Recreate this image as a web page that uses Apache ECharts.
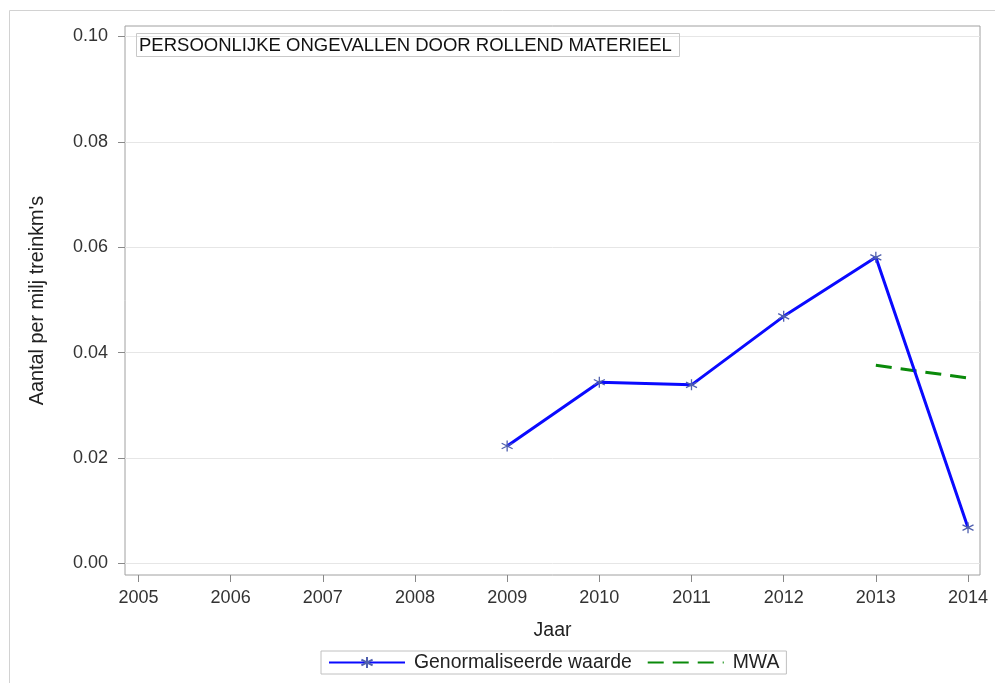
<!DOCTYPE html>
<html>
<head>
<meta charset="utf-8">
<script src="https://cdn.jsdelivr.net/npm/echarts@6/dist/echarts.min.js"></script>
<style>html,body{margin:0;padding:0;background:#fff;}#c{width:995px;height:683px;}</style>
</head>
<body>
<div id="c"></div>
<script>
const years = [2009, 2010, 2011, 2012, 2013, 2014];
const values = [0.0223, 0.0344, 0.0339, 0.0469, 0.0581, 0.0068];
const mwaYears = [2013, 2014];
const mwaValues = [0.0376, 0.0352];
const xTickLabels = [2005, 2006, 2007, 2008, 2009, 2010, 2011, 2012, 2013, 2014];
const yTickLabels = [0, 0.02, 0.04, 0.06, 0.08, 0.10];
const titleText = 'PERSOONLIJKE ONGEVALLEN DOOR ROLLEND MATERIEEL';

const FONT = '"Liberation Sans", Arial, sans-serif';
const asterisk = 'path://M5,0 L5,10 M0.7,2.5 L9.3,7.5 M9.3,2.5 L0.7,7.5';

const chart = echarts.init(document.getElementById('c'), null, {renderer: 'canvas'});
chart.setOption({
  animation: false,
  backgroundColor: '#fff',
  textStyle: {fontFamily: FONT},
  graphic: [{
    type: 'rect', silent: true, z: -10,
    shape: {x: 9.5, y: 10.5, width: 1000, height: 700},
    style: {fill: 'none', stroke: '#d2d2d2', lineWidth: 1}
  }],
  title: {
    text: titleText,
    left: 136, top: 33,
    padding: [3, 8, 2, 3],
    borderColor: '#c8c8c8', borderWidth: 1,
    textStyle: {fontFamily: FONT, fontSize: 18.5, fontWeight: 'normal', color: '#111', lineHeight: 19}
  },
  grid: {
    left: 125, right: 15, top: 26, bottom: 108,
    show: true, borderColor: '#a0a0a0', borderWidth: 1, backgroundColor: 'transparent'
  },
  legend: {
    left: 321, top: 651,
    padding: [2, 7, 2, 7],
    itemGap: 15,
    itemWidth: 76, itemHeight: 14,
    borderColor: '#c0c0c0', borderWidth: 1,
    textStyle: {fontFamily: FONT, fontSize: 19.4, color: '#222', padding: [0, 0, 0, 4]},
    data: ['Genormaliseerde waarde', {name: 'MWA', itemStyle: {color: 'transparent', borderWidth: 0, opacity: 0}}]
  },
  xAxis: {
    type: 'value',
    min: 2004.854, max: 2014.13,
    name: 'Jaar', nameLocation: 'middle', nameGap: 46,
    nameTextStyle: {fontFamily: FONT, fontSize: 19.5, color: '#222'},
    axisLine: {show: false, onZero: false},
    axisTick: {show: true, length: 7, customValues: xTickLabels, lineStyle: {color: '#888'}},
    axisLabel: {customValues: xTickLabels, margin: 14, fontFamily: FONT, fontSize: 18, color: '#333',
      formatter: v => String(Math.round(v))},
    splitLine: {show: false}
  },
  yAxis: {
    type: 'value',
    min: -0.00218, max: 0.10199,
    name: "Aantal per milj treinkm's", nameLocation: 'middle', nameGap: 77,
    nameTextStyle: {fontFamily: FONT, fontSize: 19.8, color: '#222'},
    axisLine: {show: false, onZero: false},
    axisTick: {show: true, length: 7, customValues: yTickLabels, lineStyle: {color: '#888'}},
    axisLabel: {customValues: yTickLabels, margin: 17, fontFamily: FONT, fontSize: 18, color: '#333',
      formatter: v => v.toFixed(2)},
    splitLine: {show: true, lineStyle: {color: '#e6e6e6', width: 1}}
  },
  series: [{
    name: 'Genormaliseerde waarde',
    type: 'line',
    data: years.map((y, i) => [y, values[i]]),
    symbol: asterisk, symbolSize: 11,
    showSymbol: true,
    lineStyle: {color: '#0a0aff', width: 3},
    itemStyle: {color: '#4f5fae', borderColor: '#4f5fae', borderWidth: 1.3},
    z: 3
  }, {
    name: 'MWA',
    type: 'line',
    data: mwaYears.map((y, i) => [y, mwaValues[i]]),
    symbol: 'none',
    lineStyle: {color: '#0a8a0a', width: 3, type: [16, 9]},
    itemStyle: {color: '#0a8a0a'},
    z: 2
  }]
});
</script>
</body>
</html>
